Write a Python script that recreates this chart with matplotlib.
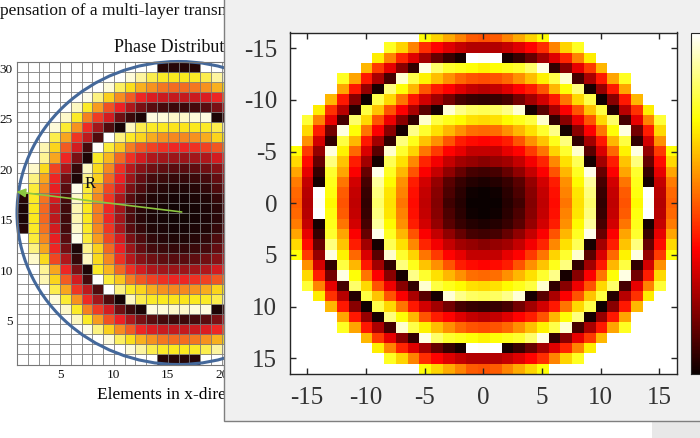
import numpy as np
import matplotlib
matplotlib.use('Agg')
import matplotlib.pyplot as plt
from matplotlib.colors import LinearSegmentedColormap
from matplotlib.patches import Circle, Rectangle
from matplotlib.transforms import ScaledTranslation

plt.rcParams['font.family'] = ['Liberation Serif', 'DejaVu Serif']
plt.rcParams['axes.unicode_minus'] = False

W = 100  # outside the aperture, drawn white

# upper left quadrant of the paper figure, levels in percent
paper_quadrant = [
    [W, W, W, W, W, W, W, W, W, W, W, W, W, 4, 4],
    [W, W, W, W, W, W, W, W, W, W, 95, 88, 80, 76, 75],
    [W, W, W, W, W, W, W, W, 95, 82, 73, 64, 58, 53, 51],
    [W, W, W, W, W, W, 97, 85, 70, 57, 48, 38, 34, 32, 31],
    [W, W, W, W, W, 92, 76, 60, 46, 37, 28, 20, 14, 10, 8],
    [W, W, W, W, 93, 76, 55, 42, 33, 18, 8, 2, 96, 95, 93],
    [W, W, W, 95, 77, 58, 39, 26, 12, 1, 92, 80, 76, 75, 74],
    [W, W, W, 80, 62, 41, 30, 12, 100, 85, 76, 71, 63, 58, 56],
    [W, W, 90, 71, 48, 33, 10, 99, 78, 68, 54, 47, 43, 40, 38],
    [W, W, 87, 62, 38, 20, 2, 76, 65, 50, 40, 33, 28, 26, 25],
    [W, 93, 72, 44, 28, 7, 92, 72, 56, 40, 29, 22, 18, 15, 14],
    [W, 85, 62, 38, 19, 2, 86, 70, 50, 37, 25, 16, 10, 8, 7],
    [W, 78, 56, 36, 14, 97, 78, 60, 44, 33, 20, 12, 6, 4, 3],
    [4, 76, 52, 33, 10, 93, 76, 56, 41, 27, 14, 7, 3, 2, 1],
    [2, 75, 50, 30, 9, 90, 75, 54, 38, 26, 12, 5, 2, 1, 0],
]

# upper left quadrant of the MATLAB window, rows -16..0, columns -16..0
window_quadrant = [
    [W, W, W, W, W, W, W, W, W, W, W, 75, 68, 62, 56, 50, 49],
    [W, W, W, W, W, W, W, W, 78, 68, 56, 43, 37, 32, 28, 25, 25],
    [W, W, W, W, W, W, W, 72, 56, 42, 32, 23, 14, 7, 2, 100, 99],
    [W, W, W, W, W, W, 64, 45, 33, 19, 6, 97, 85, 79, 77, 75, 73],
    [W, W, W, W, 78, 61, 40, 24, 9, 95, 82, 73, 65, 58, 52, 49, 48],
    [W, W, W, W, 61, 40, 21, 2, 87, 75, 64, 49, 41, 37, 32, 28, 26],
    [W, W, W, 64, 40, 19, 1, 82, 69, 54, 40, 30, 23, 16, 9, 7, 6],
    [W, W, 72, 44, 26, 4, 81, 66, 49, 36, 24, 12, 2, 96, 88, 84, 83],
    [W, 80, 56, 33, 9, 85, 69, 49, 34, 19, 6, 95, 81, 77, 74, 70, 69],
    [W, 69, 41, 16, 97, 75, 54, 36, 19, 2, 88, 79, 70, 64, 58, 53, 52],
    [W, 58, 30, 6, 81, 64, 40, 23, 6, 87, 77, 66, 58, 49, 41, 38, 37],
    [75, 45, 21, 97, 73, 52, 31, 12, 95, 79, 68, 54, 45, 37, 33, 28, 28],
    [69, 38, 14, 87, 66, 41, 23, 2, 83, 70, 57, 42, 35, 28, 23, 21, 19],
    [61, 33, 7, 79, 61, 36, 14, 98, 78, 64, 49, 36, 28, 20, 14, 9, 8],
    [55, 28, 2, 77, 54, 30, 9, 90, 74, 58, 41, 30, 21, 12, 7, 4, 3],
    [52, 26, 100, 76, 50, 28, 7, 87, 71, 56, 39, 28, 19, 10, 5, 1, 0],
    [51, 25, 99, 74, 49, 27, 6, 85, 70, 54, 38, 27, 18, 8, 4, 0, 0],
]

paper_xticks = [5, 10, 15, 20]
paper_yticks = [5, 10, 15, 20, 25, 30]
window_ticks = [-15, -10, -5, 0, 5, 10, 15]
window_ticklabels = ['-15', '-10', '-5', '0', '5', '10', '15']

FIG_W, FIG_H = 700, 438


def px_axes(fig, left, top, right, bottom, **kw):
    return fig.add_axes([left / FIG_W, 1 - bottom / FIG_H,
                         (right - left) / FIG_W, (bottom - top) / FIG_H], **kw)


fig = plt.figure(figsize=(FIG_W / 100, FIG_H / 100), dpi=100, facecolor='white')

# the page underneath
printed_hot = LinearSegmentedColormap.from_list('printed_hot', [
    (0, '#120404'), (0.2, '#7a1014'), (0.37, '#ed2024'), (0.55, '#f58220'),
    (0.75, '#fbe91c'), (0.9, '#fdf6b0'), (1, '#ffffff')])

paper = np.array(paper_quadrant) / 100
paper = np.hstack([paper, np.fliplr(paper)])
paper = np.vstack([paper, np.flipud(paper)])

ax = px_axes(fig, 17, 61.5, 340, 364.5, zorder=1)
edges = np.arange(1, 32)
ax.pcolormesh(edges, edges, np.flipud(paper), cmap=printed_hot, vmin=0, vmax=1,
              edgecolors='#777777', linewidth=0.5, antialiased=True)
ax.add_patch(Circle((16, 16), 15, fill=False, ec='#44689a', lw=2.2, clip_on=False))
ax.annotate('', xy=(0.95, 18.1), xytext=(16.3, 16.1), annotation_clip=False,
            arrowprops=dict(arrowstyle='-|>', color='#8cc63f', lw=1.2, mutation_scale=13,
                            shrinkA=0, shrinkB=0))
ax.text(7.8, 18.9, 'R', fontsize=12, ha='center', va='center', color='#111111')
ax.set_xlim(1, 31)
ax.set_ylim(1, 31)
ax.set_xticks(paper_xticks)
ax.set_yticks(paper_yticks)
ax.tick_params(length=0, labelsize=9.5, pad=3, colors='#111111')
shift_up = ScaledTranslation(0, 3.5 / 100, fig.dpi_scale_trans)
for label in ax.get_yticklabels():
    label.set_transform(label.get_transform() + shift_up)
for side in ax.spines.values():
    side.set_color('#777777')
ax.set_xlabel('Elements in x-direction', fontsize=12.5, labelpad=4.5)
ax.set_title('Phase Distribution', fontsize=13, pad=7, x=0.507, color='#111111')
fig.text(0, 1 - 11 / FIG_H, 'pensation of a multi-layer transmitarray', fontsize=12.5,
         va='center', color='#111111', zorder=1)

# bits of desktop and the figure window on top
fig.add_artist(Rectangle((652 / FIG_W, 0), 48 / FIG_W, 17 / FIG_H, fc='#e8e8e8', ec='none',
                         transform=fig.transFigure, zorder=2))
fig.add_artist(Rectangle((223.5 / FIG_W, 1 - 421 / FIG_H), 480 / FIG_W, 425 / FIG_H,
                         fc='#f0f0f0', ec='#7f7f7f', lw=1, transform=fig.transFigure, zorder=2))

phase = np.array(window_quadrant) / 100
phase = np.hstack([phase, np.fliplr(phase[:, :-1])])
phase = np.vstack([phase, np.flipud(phase[:-1, :])])

ax2 = px_axes(fig, 289.5, 32.5, 677, 374, zorder=3)
im = ax2.imshow(phase, cmap='hot', vmin=0, vmax=1, aspect='auto',
                extent=[-16.5, 16.5, 16.5, -16.5], interpolation='nearest')
ax2.set_xticks(window_ticks, window_ticklabels)
ax2.set_yticks(window_ticks, window_ticklabels)
ax2.tick_params(direction='in', top=True, right=True, length=4, width=1,
                labelsize=18, color='#262626', labelcolor='#333333', pad=9)
for side in ax2.spines.values():
    side.set_color('#262626')
    side.set_linewidth(1)

cax = px_axes(fig, 691, 32.5, 730, 374, zorder=3)
cb = fig.colorbar(im, cax=cax)
cb.set_ticks([])
cb.outline.set_edgecolor('#262626')

fig.savefig('out.png', dpi=100)
